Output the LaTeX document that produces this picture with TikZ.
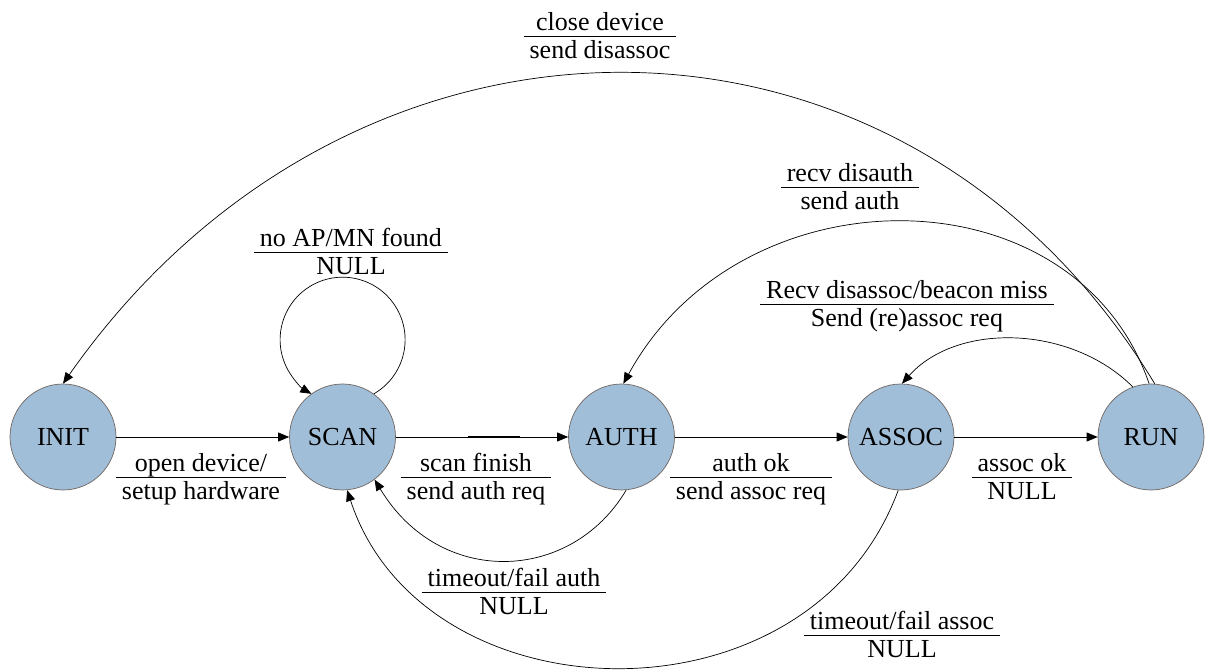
\documentclass[tikz,border=0pt]{standalone}
\usepackage{fontspec}
\setmainfont{LiberationSerif}[Extension=.ttf, UprightFont=*-Regular, BoldFont=*-Bold]
\usetikzlibrary{arrows.meta}

\definecolor{statefill}{RGB}{160,190,216}
\definecolor{stateline}{RGB}{112,102,98}

% transition label: event above a rule, action below it
\newcommand\translabel[2]{%
  {\setlength{\arrayrulewidth}{0.8pt}%
   \begin{tabular}{@{\hspace{6pt}}c@{\hspace{6pt}}}#1\\[-2.4pt]\hline\rule{0pt}{21.5pt}#2\end{tabular}}}

\begin{document}
\begin{tikzpicture}[x=1pt,y=1pt,
  state/.style={circle, fill=statefill, draw=stateline, line width=0.7pt,
    minimum size=106pt, inner sep=0pt, font=\fontsize{26}{28}\selectfont},
  edge/.style={-{Triangle[length=11pt,width=9pt]}, line width=0.7pt},
  lbl/.style={inner sep=0pt, font=\fontsize{26}{28}\selectfont}]
\useasboundingbox (0,0) rectangle (1205,670);

% states
\node[state] (init)  at (63,233)    {INIT};
\node[state] (scan)  at (342.5,233) {SCAN};
\node[state] (auth)  at (621.5,233) {AUTH};
\node[state] (assoc) at (901,233)   {ASSOC};
\node[state] (run)   at (1151,233)  {RUN};

% forward transitions
\draw[edge] (init) -- (scan);
\draw[edge] (scan) -- (auth);
\draw[line width=1.5pt] (468,233) -- (520,233);
\draw[edge] (auth) -- (assoc);
\draw[edge] (assoc) -- (run);

% self loop on SCAN
\draw[edge] (scan.54) arc[start angle=-60, end angle=240, radius=62.5pt];

% transitions back from RUN
\draw[edge] (run.86) .. controls (904,700) and (353,700) .. (init.90);
\draw[edge] (run.92) .. controls (1075,502) and (741,502) .. (auth.88);
\draw[edge] (run.110) .. controls (1071,345) and (957,348) .. (assoc.89);

% failure transitions back to SCAN
\draw[edge] (auth.-85) .. controls (571,87) and (440,82) .. (scan.-53);
\draw[edge] (assoc.-93) .. controls (809,-62) and (423,-51) .. (scan.-85);

% labels
\node[lbl] (l1) at (201,190)  {\translabel{open device/}{setup hardware}};
\node[lbl] (l2) at (476,190)  {\translabel{scan finish}{send auth req}};
\node[lbl] (l3) at (751,190)  {\translabel{auth ok}{send assoc req}};
\node[lbl] (l4) at (1022,190) {\translabel{assoc ok}{NULL}};
\node[lbl] (l5) at (351,415)  {\translabel{no AP/MN found}{NULL}};
\node[lbl] (l6) at (850,480)  {\translabel{recv disauth}{send auth}};
\node[lbl] (l7) at (907,363)  {\translabel{Recv disassoc/beacon miss}{Send (re)assoc req}};
\node[lbl] (l8) at (600,631)  {\translabel{close device}{send disassoc}};
\node[lbl] (l9) at (514,75)   {\translabel{timeout/fail auth}{NULL}};
\node[lbl] (l10) at (902,32)  {\translabel{timeout/fail assoc}{NULL}};
\end{tikzpicture}
\end{document}
